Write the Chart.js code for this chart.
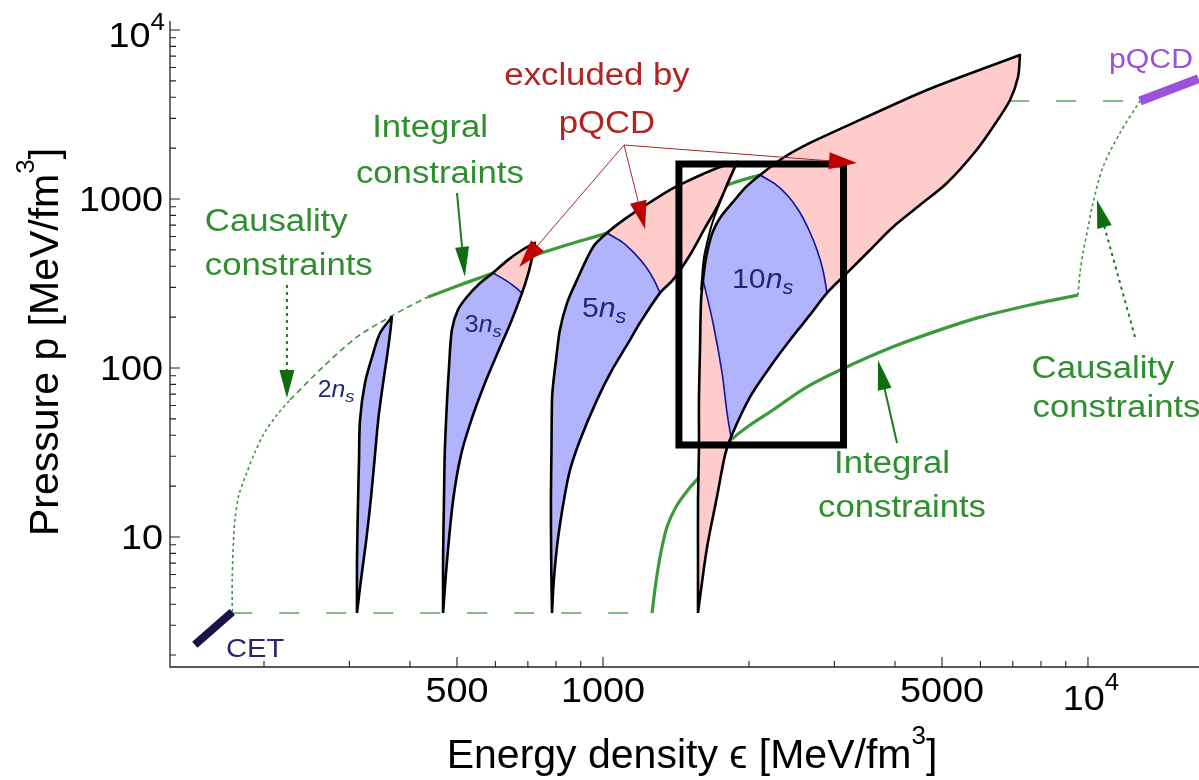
<!DOCTYPE html>
<html>
<head>
<meta charset="utf-8">
<script src="https://cdn.jsdelivr.net/npm/chart.js@4.4.0/dist/chart.umd.min.js"></script>
<style>
html, body { margin: 0; padding: 0; background: #fff; }
#wrap { width: 1199px; height: 780px; }
</style>
</head>
<body>
<div id="wrap"><canvas id="eos"></canvas></div>
<script>
// all values are [energy density, pressure] in MeV/fm^3

const cetLine = [[144, 2.30], [172, 3.60]];
const pqcdLine = [[12800, 3800], [16900, 5150]];
const cetLevel = [[172, 3.55], [1262, 3.55]];
const pqcdLevel = [[5500, 3800], [12800, 3800]];

const causalityLowA = [[172, 3.6], [172, 5.57], [172.7, 8.38], [174.2, 12.6], [177.5, 17.7], [183.6, 23.3], [191.6, 31.8], [200.9, 41.8], [212.7, 52.7], [226.2, 64.7]];
const causalityLowB = [[226.2, 64.7], [264.6, 101.4], [311, 152.6], [363.7, 200.4], [400, 232.8], [435.8, 263]];
const integralHigh = [[435.8, 263], [507, 310], [593, 365], [717, 460], [855, 542], [1019, 629], [1250, 793], [1585, 1042], [1854, 1244], [2108, 1387]];
const integralLow = [[1262, 3.55], [1286, 5.42], [1317, 8.15], [1355, 11.46], [1414, 15.05], [1497, 18.97], [1600, 23.6], [1710, 29.7], [1836, 37.5], [2010, 46.0], [2241, 56.4], [2609, 76.1], [3082, 97.3], [3906, 131.3], [4952, 168], [5988, 200], [7594, 236], [9537, 270]];
const causalityHigh = [[9537, 270], [9627, 365], [9766, 479], [10000, 674], [10240, 947], [10738, 1546], [11640, 2458], [12800, 3800]];

// n = 2 n_s
const twoLeft = [[311, 3.55], [311, 7.3], [312.6, 16.6], [314, 28.5], [315.5, 49.3], [323, 81.5], [334, 116], [347, 161], [367, 200]];
const twoRight = [[367, 200], [364, 161], [358.5, 116], [352, 81.5], [344, 49.3], [338, 28.5], [332, 16.6], [325, 9.6], [317, 5.6], [311, 3.55]];

// n = 3 n_s (upper/lower edge, allowed and excluded parts, pQCD cut)
const threeUA = [[468, 3.55], [468, 7.3], [470, 16.6], [472, 32.7], [477, 64.7], [481, 97.3], [488, 168], [502, 220], [524, 263], [558, 318], [593, 365]];
const threeUX = [[637, 436], [681, 499], [724, 549]];
const threeLX = [[724, 549], [714, 448], [700, 355]];
const threeLA = [[681, 278], [646, 187], [607.5, 124.4], [571, 81.5], [537, 50.6], [509.6, 30.6], [491, 16.6], [477, 7.3], [468, 3.55]];
const threeCut = [[593, 365], [628, 332], [658, 301.5], [681, 278]];

// n = 5 n_s
const fiveUA = [[785, 3.55], [782, 7.3], [781, 16.6], [783, 32.7], [785, 64.7], [789, 79.3], [800, 111.5], [815, 168], [843, 242], [884, 332], [954, 520], [1019, 629]];
const fiveUX = [[1110, 762], [1209, 897], [1375, 1131], [1511, 1295], [1608, 1406], [1743, 1546], [1890, 1656]];
const fiveLX = [[1890, 1656], [1810, 1244], [1727, 921], [1623, 674], [1511, 466], [1394, 332]];
const fiveLA = [[1311, 278], [1192, 185], [1137, 146.5], [1044, 97.3], [972, 64.7], [897, 37.5], [855, 24.9], [831, 16.6], [807, 9.6], [792, 5.6], [785, 3.55]];
const fiveCut = [[1019, 629], [1094, 557], [1164, 473], [1227, 396], [1274, 331.7], [1311, 278]];

// n = 10 n_s
const tenA = [[1570, 3.55], [1570, 7.3], [1570, 16.6], [1577, 32.7], [1577, 64.7], [1585, 128], [1593, 252], [1608, 332]];
const tenE1 = [[1631, 448], [1670, 596], [1710, 702], [1760, 804], [1854, 960], [1972, 1178], [2108, 1387]];
const tenE2 = [[2350, 1748], [2672, 2145], [3388, 2935], [4656, 4416], [6370, 6208], [7241, 7114]];
const tenB1 = [[7241, 7114], [7174, 5270], [6906, 3853], [6370, 2667], [5848, 1897], [5120, 1244], [4504, 921], [3963, 683], [3552, 499], [3186, 365]];
const tenB2 = [[2897, 278], [2672, 206], [2430, 146.5], [2210, 101.4], [2010, 67.4], [1836, 39]];
const tenB3 = [[1785, 30.6], [1718, 17.3], [1639, 8.7], [1585, 4.4], [1570, 3.55]];
const tenCutHigh = [[2108, 1387], [2262, 1227], [2407, 1042], [2536, 849], [2659, 655], [2763, 499], [2841, 380], [2897, 278]];
const tenCutLow = [[1836, 39], [1802, 54.2], [1760, 93.4], [1686, 184.6], [1608, 332]];
const tenATop = [[1593, 289], [1615, 448], [1654, 612], [1693, 772], [1751, 986], [1810, 1261], [1890, 1656]];

const zoomBox = [[1434, 35], [3133, 35], [3133, 1611], [1434, 1611], [1434, 35]];

// axes
const xRange = [128, 16940];
const yRange = [1.70, 11300];
const xTicksMajor = [500, 1000, 5000, 10000];
const xTickLabels = ['500', '1000', '5000', ['10', '4']];
const xTicksMinor = [200, 300, 400, 600, 700, 800, 900, 2000, 3000, 4000, 6000, 7000, 8000, 9000];
const yTicksMajor = [10, 100, 1000, 10000];
const yTickLabels = ['10', '100', '1000', ['10', '4']];
const yTicksMinor = [2, 3, 4, 5, 6, 7, 8, 9, 20, 30, 40, 50, 60, 70, 80, 90, 200, 300, 400, 500, 600, 700, 800, 900, 2000, 3000, 4000, 5000, 6000, 7000, 8000, 9000];

// labels: text, anchor [eps, p], align, colour key
const noteTexts = [
    ['Causality', [151, 647], 'left', 'green'],
    ['constraints', [151, 355], 'left', 'green'],
    ['Integral', [440, 2339], 'center', 'green'],
    ['constraints', [461, 1244], 'center', 'green'],
    ['excluded by', [972, 4726], 'center', 'red'],
    ['pQCD', [1019, 2458], 'center', 'red'],
    ['Integral', [3944, 23.9], 'center', 'green'],
    ['constraints', [4136, 13.1], 'center', 'green'],
    ['Causality', [10738, 87.3], 'center', 'green'],
    ['constraints', [11450, 51.3], 'center', 'green'],
    ['pQCD', [13490, 5959], 'center', 'purple'],
    ['CET', [167, 1.95], 'left', 'navy']
];
const densityLabels = [['2', [258, 67.4], 23], ['3', [519, 163.3], 23], ['5', [905, 200.4], 28], ['10', [1845, 297.4], 28]];
const noteArrows = [
    [[223, 310], [223, 66.5], 'greenDot'],
    [[500, 1085], [519, 346], 'green'],
    [[4039, 36], [3690, 111.5], 'green'],
    [[12500, 152.6], [10436, 986], 'greenDot'],
    [[1105, 2086], [672, 396], 'red'],
    [[1105, 2086], [1221, 665], 'red'],
    [[1105, 2086], [3340, 1633], 'red']
];

const FONT = "'Liberation Sans', Arial, Helvetica, 'DejaVu Sans', sans-serif";
const colors = {
    green: '#2f8f2f', red: '#b02424', purple: '#9a52dc', navy: '#2a2470',
    pink: '#ffcccc', blue: '#b1b3fc', cut: '#14149a'
};

function pts(a) {
    return a.map(([x, y]) => ({ x, y }));
}

function line(data, color, width, extra) {
    return Object.assign({
        data: pts(data), showLine: true, pointRadius: 0, borderColor: color,
        borderWidth: width, fill: false, tension: 0.3, borderJoinStyle: 'round'
    }, extra || {});
}

function area(data, color) {
    return {
        data: pts(data), showLine: true, pointRadius: 0, borderWidth: 0,
        borderColor: 'rgba(0,0,0,0)', backgroundColor: color, fill: 'shape', tension: 0.3
    };
}

const threeAll = [...threeUA, ...threeUX, ...threeLX, ...threeLA];
const threeBlue = [...threeUA, ...threeCut, ...threeLA];
const fiveAll = [...fiveUA, ...fiveUX, ...fiveLX, ...fiveLA];
const fiveBlue = [...fiveUA, ...fiveCut, ...fiveLA];
const tenAll = [...tenA, ...tenE1, ...tenE2, ...tenB1, ...tenB2, ...tenB3];
const tenBlue = [tenA[tenA.length - 1], ...tenE1, ...tenCutHigh, ...tenB2, ...tenCutLow];

const datasets = [
    line(cetLevel, '#5aa55a', 1.6, { borderDash: [20, 27], tension: 0 }),
    line(pqcdLevel, '#5aa55a', 1.6, { borderDash: [20, 27], tension: 0 }),
    line(causalityLowA, '#3f943f', 1.6, { borderDash: [3, 3] }),
    line(causalityLowB, '#3f943f', 1.6, { borderDash: [6, 4] }),
    line(integralHigh, '#3c9a3c', 3.2),
    line(integralLow, '#3c9a3c', 3.2),
    line(causalityHigh, '#3f943f', 1.6, { borderDash: [3, 3] }),
    line(cetLine, '#1a1247', 8, { tension: 0, borderCapStyle: 'butt' }),
    line(pqcdLine, '#9a52dc', 9, { tension: 0, borderCapStyle: 'butt' }),

    Object.assign(area([...twoLeft, ...twoRight], colors.blue), { borderWidth: 2.6, borderColor: '#000', borderJoinStyle: 'round' }),

    area(threeAll, colors.pink),
    area(threeBlue, colors.blue),
    line(threeCut, colors.cut, 1.6),
    line(threeAll, '#000', 2.6),

    area(fiveAll, colors.pink),
    area(fiveBlue, colors.blue),
    line(fiveCut, colors.cut, 1.6),
    line(fiveAll, '#000', 2.6),

    area(tenAll, colors.pink),
    area(tenBlue, colors.blue),
    line(tenCutHigh, colors.cut, 1.6),
    line(tenCutLow, colors.cut, 1.6),
    line(tenAll, '#000', 2.6),
    line(tenATop, '#000', 2),

    line(zoomBox, '#000', 7, { tension: 0, borderJoinStyle: 'miter', borderCapStyle: 'square' })
];
datasets.forEach((d, i) => { d.order = datasets.length - i; });

function rich(ctx, parts, x, y, align, sx) {
    let w = 0;
    parts.forEach(p => {
        ctx.font = p.font;
        p.w = ctx.measureText(p.t).width * sx;
        w += p.w;
    });
    let cx = align === 'center' ? x - w / 2 : (align === 'right' ? x - w : x);
    parts.forEach(p => {
        ctx.save();
        ctx.font = p.font;
        ctx.textAlign = 'left';
        ctx.textBaseline = 'alphabetic';
        ctx.translate(cx, y + (p.dy || 0));
        ctx.scale(sx, 1);
        ctx.fillText(p.t, 0, 0);
        ctx.restore();
        cx += p.w;
    });
}

function arrow(ctx, x0, y0, x1, y1, o) {
    const dx = x1 - x0, dy = y1 - y0, len = Math.hypot(dx, dy);
    const ux = dx / len, uy = dy / len;
    const bx = x1 - ux * o.head, by = y1 - uy * o.head;
    ctx.save();
    ctx.strokeStyle = o.color;
    ctx.lineWidth = o.width;
    ctx.setLineDash(o.dash || []);
    ctx.beginPath();
    ctx.moveTo(x0, y0);
    ctx.lineTo(bx + ux * 2, by + uy * 2);
    ctx.stroke();
    ctx.setLineDash([]);
    ctx.fillStyle = o.headColor;
    ctx.beginPath();
    ctx.moveTo(x1, y1);
    ctx.lineTo(bx - uy * o.half, by + ux * o.half);
    ctx.lineTo(bx + uy * o.half, by - ux * o.half);
    ctx.closePath();
    ctx.fill();
    ctx.restore();
}

const arrowStyles = {
    green: { color: '#1f7a1f', headColor: '#0f6d0f', width: 2, head: 30, half: 7 },
    greenDot: { color: '#1f7a1f', headColor: '#0f6d0f', width: 2, head: 28, half: 7.5, dash: [3, 4] },
    red: { color: '#a32828', headColor: '#c00000', width: 1, head: 28, half: 8.5 }
};

const overlay = {
    id: 'overlay',
    afterDatasetsDraw(chart) {
        const ctx = chart.ctx;
        const xs = chart.scales.x, ys = chart.scales.y;
        const a = chart.chartArea;
        const X = v => xs.getPixelForValue(v);
        const Y = v => ys.getPixelForValue(v);
        ctx.save();

        // axis lines and inward ticks
        ctx.strokeStyle = '#222';
        ctx.lineWidth = 1.3;
        ctx.beginPath();
        ctx.moveTo(a.left, a.top);
        ctx.lineTo(a.left, a.bottom);
        ctx.lineTo(a.right, a.bottom);
        ctx.stroke();
        ctx.lineWidth = 1.1;
        ctx.beginPath();
        yTicksMajor.forEach(v => { ctx.moveTo(a.left, Y(v)); ctx.lineTo(a.left + 10, Y(v)); });
        yTicksMinor.forEach(v => { ctx.moveTo(a.left, Y(v)); ctx.lineTo(a.left + 6, Y(v)); });
        xTicksMajor.forEach(v => { ctx.moveTo(X(v), a.bottom); ctx.lineTo(X(v), a.bottom - 10); });
        xTicksMinor.forEach(v => { ctx.moveTo(X(v), a.bottom); ctx.lineTo(X(v), a.bottom - 6); });
        ctx.stroke();

        // tick labels
        ctx.fillStyle = '#000';
        const tf = '35px ' + FONT, sf = '24px ' + FONT;
        yTicksMajor.forEach((v, i) => {
            const lab = yTickLabels[i];
            if (Array.isArray(lab)) {
                rich(ctx, [{ t: lab[0], font: tf }, { t: lab[1], font: sf, dy: -17 }], a.left - 5, Y(v) + 17, 'right', 1.08);
            } else {
                rich(ctx, [{ t: lab, font: tf }], a.left - 7, Y(v) + 12.5, 'right', 1.08);
            }
        });
        xTicksMajor.forEach((v, i) => {
            const lab = xTickLabels[i];
            if (Array.isArray(lab)) {
                rich(ctx, [{ t: lab[0], font: tf }, { t: lab[1], font: sf, dy: -20 }], X(v) + 3, a.bottom + 43, 'center', 1.08);
            } else {
                rich(ctx, [{ t: lab, font: tf }], X(v), a.bottom + 35, 'center', 1.08);
            }
        });

        // axis titles
        const af = '41px ' + FONT, asf = '26px ' + FONT;
        rich(ctx, [{ t: 'Energy density \u03F5 [MeV/fm', font: af }, { t: '3', font: asf, dy: -24 }, { t: ']', font: af }], 692, 768, 'center', 1.0);
        ctx.save();
        ctx.translate(58, 342);
        ctx.rotate(-Math.PI / 2);
        rich(ctx, [{ t: 'Pressure p [MeV/fm', font: af }, { t: '3', font: asf, dy: -24 }, { t: ']', font: af }], 0, 0, 'center', 1.0);
        ctx.restore();

        // arrows
        noteArrows.forEach(([f, t, k]) => {
            arrow(ctx, X(f[0]), Y(f[1]), X(t[0]), Y(t[1]), arrowStyles[k]);
        });

        // annotation texts
        noteTexts.forEach(([txt, at, align, col]) => {
            const size = col === 'purple' ? 27 : (col === 'navy' ? 26 : 31);
            ctx.fillStyle = colors[col];
            rich(ctx, [{ t: txt, font: size + 'px ' + FONT }], X(at[0]), Y(at[1]), align, 1.12);
        });

        // density labels  k n_s
        ctx.fillStyle = '#25257a';
        densityLabels.forEach(([k, at, size]) => {
            rich(ctx, [
                { t: k, font: size + 'px ' + FONT },
                { t: 'n', font: 'italic ' + size + 'px ' + FONT },
                { t: 's', font: 'italic ' + Math.round(size * 0.72) + 'px ' + FONT, dy: size * 0.2 }
            ], X(at[0]), Y(at[1]), 'left', 1.08);
        });

        ctx.restore();
    }
};

new Chart(document.getElementById('eos').getContext('2d'), {
    type: 'scatter',
    data: { datasets: datasets },
    options: {
        responsive: true,
        maintainAspectRatio: false,
        devicePixelRatio: 1,
        animation: false,
        events: [],
        layout: { padding: { top: 21, left: 170, right: 0, bottom: 113 } },
        scales: {
            x: { type: 'logarithmic', min: xRange[0], max: xRange[1], display: false },
            y: { type: 'logarithmic', min: yRange[0], max: yRange[1], display: false }
        },
        plugins: {
            legend: { display: false },
            tooltip: { enabled: false }
        }
    },
    plugins: [overlay]
});
</script>
</body>
</html>
